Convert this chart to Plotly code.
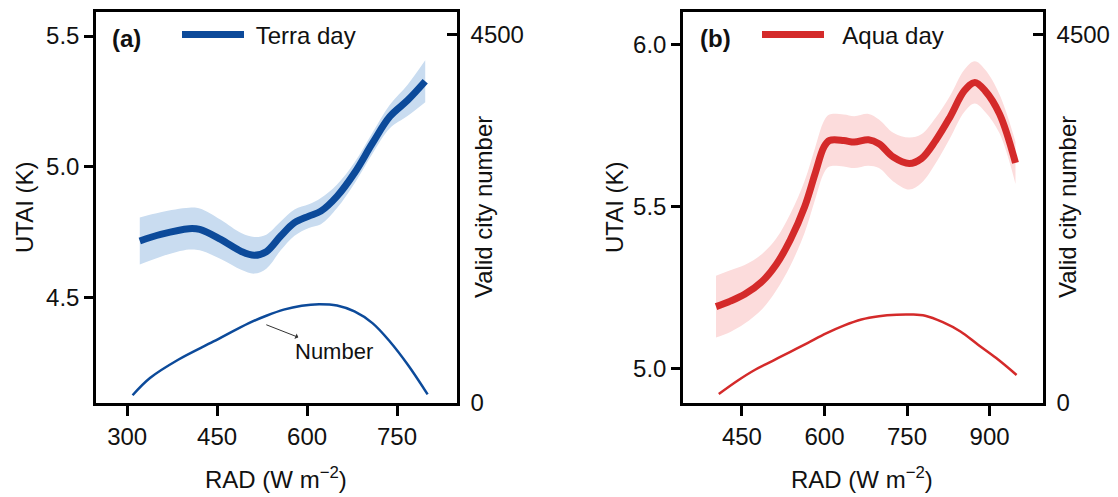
import plotly.graph_objects as go

# ---------------- data ----------------
terra_x = [321, 356, 403, 421, 456, 491, 512, 532, 556, 579, 603, 623, 650, 679, 709, 738, 768, 797]
terra_y = [4.716, 4.741, 4.763, 4.760, 4.722, 4.675, 4.661, 4.675, 4.735, 4.786, 4.811, 4.830,
           4.887, 4.976, 5.090, 5.192, 5.255, 5.327]
terra_upper = [4.806, 4.826, 4.843, 4.840, 4.797, 4.745, 4.731, 4.740, 4.790, 4.836, 4.856, 4.880,
               4.932, 5.016, 5.130, 5.237, 5.315, 5.407]
terra_lower = [4.626, 4.656, 4.683, 4.680, 4.647, 4.605, 4.591, 4.610, 4.680, 4.736, 4.766, 4.780,
               4.842, 4.936, 5.050, 5.147, 5.195, 5.247]
terra_num_x = [309, 338, 385, 444, 503, 532, 561, 591, 620, 650, 679, 709, 738, 768, 801]
terra_num = [95, 305, 528, 751, 975, 1065, 1140, 1188, 1206, 1190, 1117, 975, 751, 467, 106]

aqua_x = [403, 429, 455, 487, 512, 538, 564, 583, 599, 609, 635, 654, 680, 699, 725, 754, 776,
          802, 828, 854, 873, 892, 918, 947]
aqua_y = [5.192, 5.209, 5.230, 5.270, 5.321, 5.398, 5.500, 5.602, 5.684, 5.704, 5.704, 5.699,
          5.706, 5.694, 5.653, 5.633, 5.648, 5.704, 5.776, 5.857, 5.883, 5.857, 5.786, 5.635]
aqua_upper = [5.287, 5.304, 5.320, 5.355, 5.401, 5.478, 5.580, 5.682, 5.764, 5.784, 5.784, 5.779,
              5.786, 5.769, 5.728, 5.713, 5.723, 5.774, 5.841, 5.922, 5.948, 5.922, 5.846, 5.700]
aqua_lower = [5.097, 5.114, 5.140, 5.185, 5.241, 5.318, 5.420, 5.522, 5.604, 5.624, 5.624, 5.619,
              5.626, 5.619, 5.578, 5.553, 5.573, 5.634, 5.711, 5.792, 5.818, 5.792, 5.726, 5.570]
aqua_num_x = [408, 442, 474, 506, 538, 570, 603, 635, 667, 699, 731, 757, 783, 815, 847, 879, 912, 949]
aqua_num = [110, 272, 406, 515, 625, 735, 850, 945, 1020, 1060, 1078, 1080, 1066, 987, 873, 711, 548, 342]

ticks_x_a = [300, 450, 600, 750]
ticks_x_b = [450, 600, 750, 900]
ticks_y_a = [4.5, 5.0, 5.5]
ticks_y_b = [5.0, 5.5, 6.0]
ticks_num = [0, 4500]

# ---------------- style ----------------
FONT = "Liberation Sans, Arial, sans-serif"
FS = 24
BLUE = "#0c4a9a"
BLUE_BAND = "#c9dcf0"
RED = "#d42a2a"
RED_BAND = "#fcdcdc"
W, H = 1118, 497

fig = go.Figure()

def add_panel(x, y, up, lo, nx, n, xa, ya, yn, color, band, name, legend):
    fig.add_trace(go.Scatter(x=x, y=lo, xaxis=xa, yaxis=ya, mode="lines", line=dict(width=0, shape="spline"),
                             showlegend=False, hoverinfo="skip"))
    fig.add_trace(go.Scatter(x=x, y=up, xaxis=xa, yaxis=ya, mode="lines", line=dict(width=0, shape="spline"),
                             fill="tonexty", fillcolor=band, showlegend=False, hoverinfo="skip"))
    fig.add_trace(go.Scatter(x=x, y=y, xaxis=xa, yaxis=ya, mode="lines", name=name, legend=legend,
                             line=dict(color=color, width=7, shape="spline")))
    fig.add_trace(go.Scatter(x=nx, y=n, xaxis=xa, yaxis=yn, mode="lines", showlegend=False,
                             line=dict(color=color, width=2.5, shape="spline")))

add_panel(terra_x, terra_y, terra_upper, terra_lower, terra_num_x, terra_num, "x", "y", "y3",
          BLUE, BLUE_BAND, "\u00a0Terra day", "legend")
add_panel(aqua_x, aqua_y, aqua_upper, aqua_lower, aqua_num_x, aqua_num, "x2", "y2", "y4",
          RED, RED_BAND, "\u00a0\u00a0Aqua day", "legend2")

dom_a = [96 / W, 457 / W]
dom_b = [683 / W, 1043 / W]
dom_y = [1 - 403 / H, 1 - 12 / H]

axis_common = dict(showline=True, linecolor="black", linewidth=2.5, showgrid=False, zeroline=False,
                   tickfont=dict(family=FONT, size=FS, color="#111"), tickcolor="black",
                   tickwidth=2.5, automargin=False)

leg_common = dict(xanchor="left", yanchor="middle", bgcolor="rgba(0,0,0,0)", borderwidth=0,
                  font=dict(family=FONT, size=FS, color="#111"), itemwidth=62)

fig.update_layout(
    width=W, height=H, margin=dict(l=0, r=0, t=0, b=0),
    paper_bgcolor="white", plot_bgcolor="white",
    font=dict(family=FONT, size=FS, color="#111"),
    xaxis=dict(domain=dom_a, anchor="y", range=[248, 850], tickvals=ticks_x_a, ticks="outside",
               ticklen=10, mirror=True, **axis_common),
    yaxis=dict(domain=dom_y, anchor="x", range=[4.096, 5.592], tickvals=ticks_y_a, tickformat=".1f",
               ticks="outside", ticklen=9, mirror=True, **axis_common),
    yaxis3=dict(overlaying="y", anchor="x", side="right", range=[0, 4772], tickvals=ticks_num,
                ticks="inside", ticklen=10, ticklabelstandoff=6, **axis_common),
    xaxis2=dict(domain=dom_b, anchor="y2", range=[343, 997], tickvals=ticks_x_b, ticks="outside",
                ticklen=10, mirror=True, **axis_common),
    yaxis2=dict(domain=dom_y, anchor="x2", range=[4.895, 6.10], tickvals=ticks_y_b, tickformat=".1f",
                ticks="outside", ticklen=9, mirror=True, **axis_common),
    yaxis4=dict(overlaying="y2", anchor="x2", side="right", range=[0, 4772], tickvals=ticks_num,
                ticks="inside", ticklen=10, ticklabelstandoff=6, **axis_common),
    legend=dict(x=177 / W, y=1 - 35 / H, **leg_common),
    legend2=dict(x=757 / W, y=1 - 35 / H, **leg_common),
    showlegend=True,
)

ann_font = dict(family=FONT, size=FS, color="#111")

def pann(text, px, py, angle=0, font=ann_font):
    return dict(text=text, x=px / W, y=1 - py / H, xref="paper", yref="paper", showarrow=False,
                xanchor="center", yanchor="middle", textangle=angle, font=font)

bold_font = dict(family=FONT, size=24, color="#111")
annotations = [
    pann("<b>(a)</b>", 126, 38, font=bold_font),
    pann("<b>(b)</b>", 715, 38, font=bold_font),
    pann("UTAI (K)", 25, 207, -90),
    pann("Valid city number", 484, 207, -90),
    pann("UTAI (K)", 615, 207, -90),
    pann("Valid city number", 1068, 207, -90),
    pann("RAD (W m<sup>−2</sup>)", 276, 478),
    pann("RAD (W m<sup>−2</sup>)", 862, 478),
    # "Number" label with an arrow from the curve pointing to the label
    dict(text="Number", x=532, y=955, xref="x", yref="y3", ax=645, ay=631, axref="x", ayref="y3",
         showarrow=True, arrowside="start", arrowhead=2, arrowsize=1.2, arrowwidth=1,
         arrowcolor="#333", standoff=0, startstandoff=0,
         font=dict(family=FONT, size=22, color="#111")),
]
fig.update_layout(annotations=annotations)

fig.write_html("out.html", post_script="document.body.style.margin='0';",
               config={"displayModeBar": False})
